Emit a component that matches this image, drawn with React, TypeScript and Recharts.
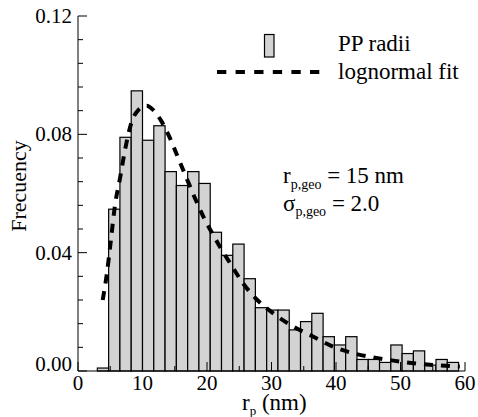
import React from 'react';
import { ComposedChart, Bar, Line, XAxis, YAxis, Label } from 'recharts';

// histogram bins (nm) and their frequencies
const binCenters = [
  3.875, 5.625, 7.375, 9.125, 10.875, 12.625, 14.375, 16.125, 17.875, 19.625,
  21.375, 23.125, 24.875, 26.625, 28.375, 30.125, 31.875, 33.625, 35.375, 37.125,
  38.875, 40.625, 42.375, 44.125, 45.875, 47.625, 49.375, 51.125, 52.875, 54.625,
  56.375, 58.125,
];
const frequencies = [
  0.001, 0.0547, 0.079, 0.0947, 0.078, 0.0829, 0.0674, 0.0627, 0.0674, 0.0634,
  0.0469, 0.0391, 0.0429, 0.0312, 0.0214, 0.0206, 0.0206, 0.0139, 0.0167, 0.0195,
  0.0116, 0.0088, 0.0116, 0.0039, 0.0039, 0.0029, 0.0088, 0.0059, 0.0068, 0.002,
  0.0039, 0.0029,
];
const binWidth = 1.75;

// lognormal fit
const fitR = [
  3.83, 4.45, 5.07, 5.74, 6.51, 7.29, 8.33, 9.35, 10.65, 11.68, 12.97, 14.26,
  15.55, 16.85, 18.14, 19.43, 21.24, 22.0, 23.6, 25.6, 27.8, 30.2, 33.4, 36.5,
  39.6, 42.7, 45.8, 48.9, 52.0, 55.1, 59.2,
];
const fitF = [
  0.024, 0.0325, 0.0437, 0.0561, 0.0651, 0.0747, 0.0843, 0.0882, 0.0897, 0.0882,
  0.0843, 0.0787, 0.0719, 0.0651, 0.0584, 0.0522, 0.0449, 0.042, 0.0364, 0.0296,
  0.024, 0.0196, 0.015, 0.0116, 0.0082, 0.006, 0.0046, 0.0035, 0.0026, 0.002,
  0.0015,
];

const xTicks = [0, 5, 10, 15, 20, 25, 30, 35, 40, 45, 50, 55, 60];
const yTicks = [
  0, 0.008, 0.016, 0.024, 0.032, 0.04, 0.048, 0.056, 0.064, 0.072, 0.08, 0.088,
  0.096, 0.104, 0.112, 0.12,
];

const histData = binCenters.map((r, i) => ({ r, h: frequencies[i] }));
const fitData = fitR.map((r, i) => ({ r, f: fitF[i] }));

const FONT = "'Liberation Serif', 'Times New Roman', 'DejaVu Serif', serif";
const W = 478;
const H = 417;
const margin = { top: 16, right: 13, bottom: 0, left: 0 };
const yAxisW = 78;
const plotW = W - margin.right - yAxisW;
const binPx = (binWidth / 60) * plotW;

const isMajorX = (v: number) => v % 10 === 0;
const isMajorY = (v: number) => Math.round(v / 0.008) % 5 === 0;

// the axis gives a thin band on a number scale, so draw the full bin width
const HistBar = (props: any) => {
  const { x, y, width, height } = props;
  if (height == null || height <= 0) return null;
  const cx = x + width / 2;
  return (
    <rect
      x={cx - binPx / 2}
      y={y}
      width={binPx}
      height={height}
      fill="#d3d3d3"
      stroke="#000"
      strokeWidth={1.2}
    />
  );
};

const BottomTick = ({ x, y, payload }: any) => {
  const major = isMajorX(payload.value);
  return (
    <g>
      <line x1={x} y1={y} x2={x} y2={y - (major ? 9 : 5)} stroke="#000" />
      {major && (
        <text x={x} y={y + 19} textAnchor="middle" fontSize={21} fontFamily={FONT} fill="#000">
          {payload.value}
        </text>
      )}
    </g>
  );
};

const TopTick = ({ x, y, payload }: any) => (
  <line x1={x} y1={y} x2={x} y2={y + (isMajorX(payload.value) ? 9 : 5)} stroke="#000" />
);

const LeftTick = ({ x, y, payload }: any) => {
  const major = isMajorY(payload.value);
  return (
    <g>
      <line x1={x} y1={y} x2={x + (major ? 9 : 5)} y2={y} stroke="#000" />
      {major && (
        <text
          x={x - 6}
          y={payload.value === 0 ? y : y + 7}
          textAnchor="end"
          fontSize={21}
          fontFamily={FONT}
          fill="#000"
        >
          {payload.value.toFixed(2)}
        </text>
      )}
    </g>
  );
};

const RightTick = ({ x, y, payload }: any) => (
  <line x1={x} y1={y} x2={x - (isMajorY(payload.value) ? 9 : 5)} y2={y} stroke="#000" />
);

export default function App() {
  return (
    <div style={{ position: 'absolute', left: 0, top: 0, width: W, height: H, background: '#fff' }}>
      <ComposedChart width={W} height={H} data={histData} margin={margin}>
        <Bar dataKey="h" fill="#d3d3d3" shape={<HistBar />} isAnimationActive={false} />
        <Line
          data={fitData}
          dataKey="f"
          type="monotone"
          stroke="#000"
          strokeWidth={4}
          strokeDasharray="9 8"
          dot={false}
          isAnimationActive={false}
        />
        <XAxis
          dataKey="r"
          type="number"
          domain={[0, 60]}
          ticks={xTicks}
          interval={0}
          height={46}
          tickSize={0}
          tickMargin={0}
          tickLine={false}
          axisLine={{ stroke: '#000' }}
          tick={<BottomTick />}
        >
          <Label
            content={() => (
              <text x={242} y={410} fontSize={23} fontFamily={FONT} fill="#000">
                r
                <tspan fontSize={13} dy={5}>p</tspan>
                <tspan dy={-5}> (nm)</tspan>
              </text>
            )}
          />
        </XAxis>
        <XAxis
          xAxisId="top"
          orientation="top"
          type="number"
          domain={[0, 60]}
          ticks={xTicks}
          interval={0}
          height={0}
          tickSize={0}
          tickMargin={0}
          tickLine={false}
          axisLine={{ stroke: '#000' }}
          tick={<TopTick />}
        />
        <YAxis
          type="number"
          domain={[0, 0.12]}
          ticks={yTicks}
          interval={0}
          width={yAxisW}
          tickSize={0}
          tickMargin={0}
          tickLine={false}
          axisLine={{ stroke: '#000' }}
          tick={<LeftTick />}
        >
          <Label
            content={() => (
              <text
                x={25.5}
                y={186}
                transform="rotate(-90 25.5 186)"
                textAnchor="middle"
                fontSize={22}
                fontFamily={FONT}
                fill="#000"
              >
                Frecuency
              </text>
            )}
          />
        </YAxis>
        <YAxis
          yAxisId="right"
          orientation="right"
          type="number"
          domain={[0, 0.12]}
          ticks={yTicks}
          interval={0}
          width={0}
          tickSize={0}
          tickMargin={0}
          tickLine={false}
          axisLine={{ stroke: '#000' }}
          tick={<RightTick />}
        />
      </ComposedChart>
      <svg width={W} height={H} style={{ position: 'absolute', left: 0, top: 0, pointerEvents: 'none' }}>
        <rect x={264.5} y={34.5} width={9.5} height={22.5} fill="#d3d3d3" stroke="#000" strokeWidth={1.2} />
        <text x={338} y={51} fontSize={23} fontFamily={FONT} fill="#000">PP radii</text>
        <line x1={217} y1={72} x2={320} y2={72} stroke="#000" strokeWidth={4} strokeDasharray="9.3 9.3" />
        <text x={338} y={79} fontSize={23} fontFamily={FONT} fill="#000">lognormal fit</text>
        <text x={283} y={183} fontSize={23} fontFamily={FONT} fill="#000">
          r<tspan fontSize={14} dy={5.5}>p,geo</tspan>
          <tspan dy={-5.5}> = 15 nm</tspan>
        </text>
        <text x={283} y={210.5} fontSize={23} fontFamily={FONT} fill="#000">
          σ<tspan fontSize={14} dy={5.5}>p,geo</tspan>
          <tspan dy={-5.5}> = 2.0</tspan>
        </text>
      </svg>
    </div>
  );
}
